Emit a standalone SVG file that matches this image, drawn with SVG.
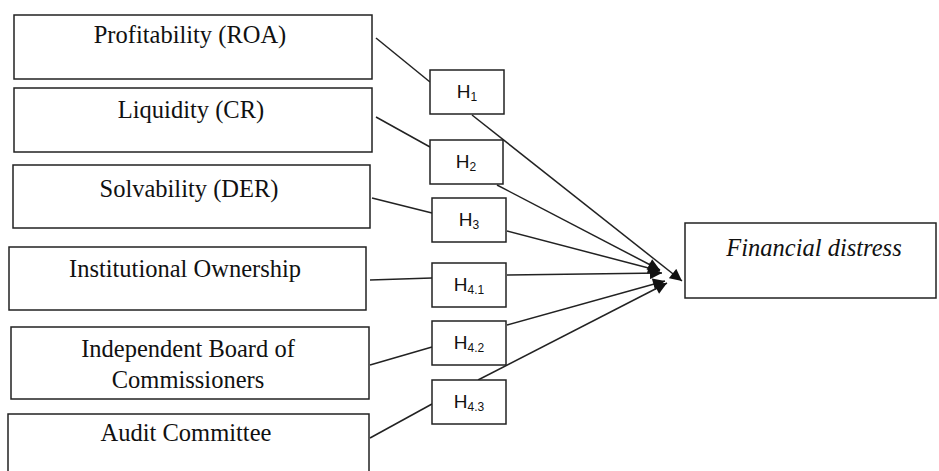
<svg xmlns="http://www.w3.org/2000/svg" width="939" height="471" viewBox="0 0 939 471">
<defs>
<style>
.box{fill:#fff;stroke:#222;stroke-width:1.5}
.t{font-family:"Liberation Serif","Times New Roman",serif;font-size:24.5px;fill:#111;text-anchor:middle}
.h{font-family:"Liberation Sans",Arial,sans-serif;font-size:19px;fill:#111;text-anchor:middle}
.sub{font-size:12px}
.c{stroke:#222;stroke-width:1.5;fill:none}
.a{marker-end:url(#arr)}
</style>
<marker id="arr" viewBox="0 0 10 10" refX="10" refY="5" markerWidth="13" markerHeight="12" markerUnits="userSpaceOnUse" orient="auto">
<path d="M0,0 L10,5 L0,10 z" fill="#111"/>
</marker>
</defs>
<rect width="939" height="471" fill="#fff"/>
<g id="connectors">
<line class="c" x1="376" y1="38" x2="430" y2="82"/>
<line class="c" x1="376" y1="117" x2="430" y2="147"/>
<line class="c" x1="372" y1="198" x2="432" y2="213"/>
<line class="c" x1="370" y1="280" x2="432" y2="278"/>
<line class="c" x1="370" y1="365" x2="432" y2="347"/>
<line class="c" x1="370" y1="438" x2="432" y2="404"/>
<line class="c a" x1="472" y1="115" x2="682" y2="281"/>
<line class="c a" x1="497" y1="185" x2="660" y2="270"/>
<line class="c a" x1="507" y1="231" x2="660" y2="271"/>
<line class="c a" x1="507" y1="275" x2="662" y2="273"/>
<line class="c a" x1="507" y1="325" x2="665" y2="281"/>
<line class="c a" x1="478" y1="380" x2="667" y2="283"/>
</g>
<g id="n-roa"><rect class="box" x="14" y="15" width="358" height="64"/><text class="t" x="190" y="43">Profitability (ROA)</text></g>
<g id="n-cr"><rect class="box" x="14" y="88" width="358" height="64"/><text class="t" x="191" y="118">Liquidity (CR)</text></g>
<g id="n-der"><rect class="box" x="13" y="165" width="357" height="63"/><text class="t" x="189" y="197">Solvability (DER)</text></g>
<g id="n-io"><rect class="box" x="9" y="247" width="357" height="63"/><text class="t" x="185" y="277">Institutional Ownership</text></g>
<g id="n-ibc"><rect class="box" x="11" y="327" width="358" height="72"/><text class="t" x="188" y="357">Independent Board of</text><text class="t" x="188" y="388">Commissioners</text></g>
<g id="n-ac"><rect class="box" x="8" y="414" width="361" height="70"/><text class="t" x="186" y="441">Audit Committee</text></g>
<g id="n-h1"><rect class="box" x="430" y="70" width="74" height="44"/><text class="h" x="467" y="98">H<tspan class="sub" dy="3">1</tspan></text></g>
<g id="n-h2"><rect class="box" x="430" y="140" width="73" height="44"/><text class="h" x="466" y="168">H<tspan class="sub" dy="3">2</tspan></text></g>
<g id="n-h3"><rect class="box" x="432" y="198" width="74" height="44"/><text class="h" x="469" y="226">H<tspan class="sub" dy="3">3</tspan></text></g>
<g id="n-h41"><rect class="box" x="432" y="263" width="74" height="44"/><text class="h" x="469" y="291">H<tspan class="sub" dy="3">4.1</tspan></text></g>
<g id="n-h42"><rect class="box" x="432" y="321" width="74" height="44"/><text class="h" x="469" y="349">H<tspan class="sub" dy="3">4.2</tspan></text></g>
<g id="n-h43"><rect class="box" x="432" y="380" width="74" height="44"/><text class="h" x="469" y="408">H<tspan class="sub" dy="3">4.3</tspan></text></g>
<g id="n-fd"><rect class="box" x="685" y="223" width="251" height="75"/><text class="t" x="814" y="256" font-style="italic">Financial distress</text></g>
</svg>
